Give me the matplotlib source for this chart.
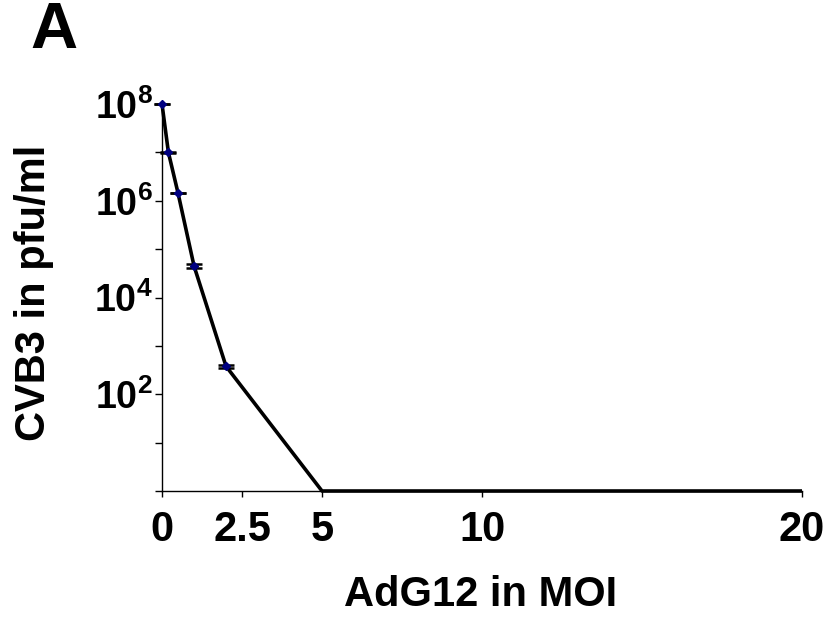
import matplotlib
matplotlib.use('Agg')
import matplotlib.pyplot as plt
import numpy as np

plt.rcParams['font.family'] = ['Liberation Sans', 'DejaVu Sans']
plt.rcParams['font.weight'] = 'bold'
plt.rcParams['mathtext.fontset'] = 'custom'
plt.rcParams['mathtext.rm'] = 'Liberation Sans:bold'
plt.rcParams['mathtext.bf'] = 'Liberation Sans:bold'
plt.rcParams['mathtext.it'] = 'Liberation Sans:bold'

# data
moi = [0, 0.2, 0.5, 1, 2, 5, 10, 20]
titer = [1e8, 1e7, 1.45e6, 4.5e4, 3.8e2, 1, 1, 1]
err = [1.5e6, 1.5e5, 2.5e4, 3.5e3, 3.0e1, 0, 0, 0]
n_err = 5  # error bars only on measured points

xticks = [0, 2.5, 5, 10, 20]
xticklabels = ['0', '2.5', '5', '10', '20']
yticks = [1e0, 1e1, 1e2, 1e3, 1e4, 1e5, 1e6, 1e7, 1e8]
yticklabels = ['', '', r'$\mathbf{10^{2}}$', '', r'$\mathbf{10^{4}}$', '',
               r'$\mathbf{10^{6}}$', '', r'$\mathbf{10^{8}}$']

fig = plt.figure(figsize=(8.34, 6.18), dpi=100)
ax = fig.add_axes([162/834, 1-491/618, (802-162)/834, (491-104)/618])

ax.plot(moi, titer, color='black', lw=2.6, clip_on=False, zorder=3,
        solid_capstyle='butt')
ax.errorbar(moi[:n_err], titer[:n_err], yerr=err[:n_err], fmt='none',
            ecolor='black', elinewidth=1.5, capsize=6, capthick=1.8,
            clip_on=False, zorder=4)
ax.plot(moi[:n_err], titer[:n_err], ls='none', marker='D', ms=4,
        color='#000080', clip_on=False, zorder=5)

ax.set_yscale('log')
ax.set_ylim(1, 1e8)
ax.set_xlim(0, 20)
ax.set_yticks(yticks)
ax.set_yticklabels(yticklabels)
ax.yaxis.set_minor_locator(matplotlib.ticker.NullLocator())
ax.set_xticks(xticks)
ax.set_xticklabels(xticklabels)

for s in ['top', 'right']:
    ax.spines[s].set_visible(False)
for s in ['left', 'bottom']:
    ax.spines[s].set_linewidth(1.0)

ax.tick_params(axis='y', direction='out', length=5, width=1, pad=1.5,
               labelsize=27)
ax.tick_params(axis='x', direction='out', length=4, width=1, pad=10,
               labelsize=30)

fig.text(481/834, 1-595/618, 'AdG12 in MOI', fontsize=30, fontweight='bold',
         ha='center', va='center')
fig.text(34/834, 1-293/618, 'CVB3 in pfu/ml', fontsize=30, fontweight='bold',
         ha='center', va='center', rotation=90)
fig.text(54/834, 1-31/618, 'A', fontsize=47, fontweight='bold',
         ha='center', va='center')

plt.savefig('out.png', dpi=100)
